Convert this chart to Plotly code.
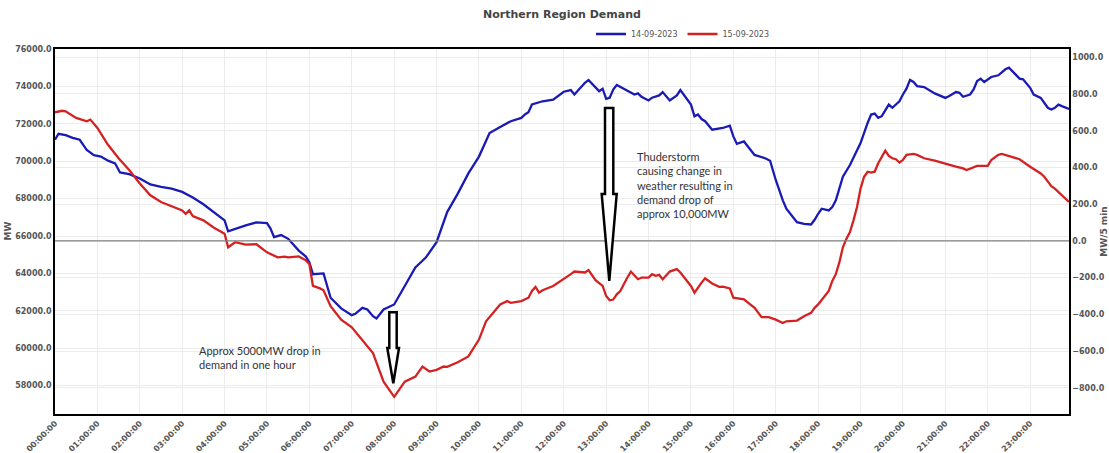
import plotly.graph_objects as go

DAY = "2023-09-14 "

# ---- 14-09-2023 (blue) ----
blue_times = ["00:00","00:05","00:15","00:25","00:35","00:45","00:55","01:05","01:15","01:25","01:32","01:45",
              "02:00","02:15","02:30","02:45","03:00","03:15","03:30","03:45","04:00","04:05","04:15","04:30",
              "04:45","05:00","05:05","05:10","05:20","05:30","05:45","05:55","06:00","06:05","06:20","06:30",
              "06:45","07:00","07:05","07:15","07:22","07:30","07:35","07:45","08:00","08:15","08:30","08:40",
              "08:45","09:00","09:15","09:30","09:45","10:00","10:15","10:30","10:45","11:00","11:05","11:10",
              "11:15","11:30","11:45","12:00","12:10","12:15","12:30","12:35","12:45","12:50","12:55","13:00",
              "13:05","13:10","13:15","13:30","13:40","13:45","13:50","14:00","14:05","14:15","14:20","14:30",
              "14:40","14:45","15:00","15:05","15:10","15:15","15:20","15:30","15:45","15:55","16:00","16:05",
              "16:15","16:30","16:45","16:52","17:00","17:10","17:15","17:30","17:40","17:50","17:55","18:00",
              "18:05","18:15","18:20","18:25","18:30","18:35","18:45","19:00","19:10","19:15","19:20","19:25",
              "19:30","19:40","19:45","19:55","20:00","20:05","20:10","20:15","20:20","20:30","20:45","21:00",
              "21:05","21:15","21:20","21:25","21:35","21:40","21:45","21:50","21:55","22:00","22:05","22:15",
              "22:25","22:30","22:35","22:45","22:50","23:00","23:05","23:15","23:25","23:30","23:35","23:40",
              "23:45","23:55"]
blue_mw = [71150,71470,71400,71250,71150,70600,70330,70250,70030,69890,69400,69310,
           69080,68760,68630,68540,68360,68060,67700,67290,66840,66250,66390,66570,
           66730,66690,66400,65940,66050,65850,65220,64900,64590,63960,64000,62700,
           62130,61770,61840,62160,62070,61710,61590,62070,62340,63330,64320,64680,
           64860,65670,67280,68270,69350,70250,71510,71830,72140,72320,72500,72620,
           73040,73210,73300,73720,73810,73570,74200,74350,73930,73750,73880,73340,
           73400,73840,74080,73750,73570,73630,73450,73250,73400,73520,73700,73250,
           73520,73810,73030,72400,72500,72260,72140,71690,71780,71900,71330,70930,
           71060,70340,70160,70030,69000,67910,67460,66740,66650,66620,66870,67190,
           67460,67370,67550,67910,68540,69170,69800,70970,72050,72500,72550,72320,
           72410,73030,72860,73210,73570,73880,74350,74240,74020,73970,73630,73390,
           73480,73700,73660,73450,73570,73840,74290,74420,74240,74380,74510,74600,
           74920,75010,74830,74420,74380,73930,73570,73390,72860,72770,72860,73030,
           72950,72800]

# ---- 15-09-2023 (red) ----
red_times = ["00:00","00:10","00:15","00:30","00:45","00:50","01:00","01:15","01:30","01:45","02:00","02:15",
             "02:30","02:45","03:00","03:05","03:10","03:15","03:30","03:45","04:00","04:05","04:15","04:30",
             "04:45","05:00","05:15","05:25","05:30","05:45","05:55","06:00","06:05","06:15","06:20","06:30",
             "06:45","07:00","07:15","07:30","07:45","08:00","08:15","08:30","08:40","08:50","09:00","09:10",
             "09:15","09:30","09:45","10:00","10:10","10:15","10:30","10:40","10:45","11:00","11:10","11:15",
             "11:20","11:25","11:30","11:45","12:00","12:10","12:15","12:30","12:35","12:45","12:55","13:00",
             "13:05","13:10","13:15","13:20","13:30","13:35","13:45","13:50","14:00","14:05","14:10","14:15",
             "14:20","14:30","14:40","14:45","15:00","15:05","15:15","15:20","15:30","15:40","15:45","15:55",
             "16:00","16:15","16:30","16:40","16:50","17:00","17:10","17:15","17:30","17:40","17:50","17:55",
             "18:00","18:10","18:15","18:20","18:25","18:30","18:35","18:40","18:45","18:50","18:55","19:00",
             "19:05","19:10","19:15","19:20","19:25","19:35","19:40","19:45","19:50","19:55","20:00","20:05",
             "20:15","20:20","20:30","20:45","21:00","21:15","21:25","21:30","21:45","22:00","22:05","22:10",
             "22:15","22:20","22:30","22:45","23:00","23:10","23:15","23:20","23:25","23:30","23:35","23:45",
             "23:55"]
red_mw = [72620,72700,72670,72320,72140,72230,71780,70880,70160,69530,68810,68180,
          67820,67610,67370,67190,67370,67070,66840,66440,66120,65400,65670,65540,
          65560,65130,64860,64900,64860,64910,64700,64500,63330,63200,63100,62250,
          61530,61120,60460,59740,58210,57400,58210,58480,59020,58750,58840,59020,
          59000,59250,59560,60460,61440,61660,62340,62520,62430,62520,62700,63060,
          63280,62970,63100,63330,63690,63960,64100,64050,64180,63640,63330,62790,
          62560,62600,62880,63060,63780,64100,63690,63780,63780,63960,63870,63920,
          63690,64100,64230,64050,63330,62970,63510,63740,63460,63280,63290,63200,
          62700,62610,62160,61660,61660,61530,61350,61440,61480,61710,61890,62160,
          62340,62790,63060,63600,63960,64590,65400,65850,66210,66840,67550,68540,
          69170,69440,69390,69440,69890,70570,70290,70160,70110,69930,70070,70340,
          70390,70340,70160,70030,69850,69710,69620,69530,69750,69750,70070,70200,
          70340,70390,70290,70110,69710,69500,69350,69170,68900,68670,68540,68180,
          67820]

series_names = ["14-09-2023", "15-09-2023"]
left_ticks = list(range(58000, 76001, 2000))
right_ticks = list(range(-800, 1001, 200))

BLUE = "#1a1ab4"
RED = "#d42222"
TXT = "#555555"

W, H = 1109, 453
ML, MR, MT, MB = 55, 40, 49, 39
PW, PH = W - ML - MR, H - MT - MB


def to_paper(px, py):
    return (px - ML) / PW, (H - MB - py) / PH


def arrow_path(pts):
    ps = [to_paper(x, y) for x, y in pts]
    return "M " + " L ".join(f"{x:.5f},{y:.5f}" for x, y in ps) + " Z"


fig = go.Figure()
fig.add_trace(go.Scatter(x=[DAY + t for t in blue_times], y=blue_mw, mode="lines",
                         name=series_names[0], line=dict(color=BLUE, width=2.3)))
fig.add_trace(go.Scatter(x=[DAY + t for t in red_times], y=red_mw, mode="lines",
                         name=series_names[1], line=dict(color=RED, width=2.3)))
# empty trace for right axis
fig.add_trace(go.Scatter(x=[DAY + "00:00"], y=[None], yaxis="y2", showlegend=False,
                         hoverinfo="skip", mode="lines"))

axis_font = dict(family="DejaVu Sans", size=8, color=TXT, weight="bold")
title_font = dict(family="DejaVu Sans", size=9, color=TXT)

fig.update_layout(
    width=W, height=H,
    margin=dict(l=ML, r=MR, t=MT, b=MB),
    paper_bgcolor="white", plot_bgcolor="white",
    font=dict(family="DejaVu Sans", color=TXT),
    title=dict(text="<b>Northern Region Demand</b>", x=0.5, xref="paper", xanchor="center",
               y=1 - 14 / H, yref="container", yanchor="middle",
               font=dict(family="DejaVu Sans", size=11, color="#444444")),
    showlegend=True,
    legend=dict(orientation="h", x=(591 - ML) / PW, xanchor="left", y=(H - MB - 34) / PH,
                yanchor="middle", font=dict(family="DejaVu Sans", size=8, color=TXT),
                bgcolor="rgba(0,0,0,0)", itemwidth=30, tracegroupgap=0),
    xaxis=dict(type="date", range=[DAY + "00:00", DAY + "23:55"],
               tick0=DAY + "00:00", dtick=3600000, tickformat="%H:%M:%S", tickangle=-45,
               tickfont=axis_font, showgrid=True, gridcolor="#ececec", gridwidth=1,
               showline=True, linecolor="black", linewidth=1.5, mirror=True,
               ticks="", zeroline=False, automargin=False),
    yaxis=dict(range=[56480, 76005], tickvals=left_ticks, tickformat=".1f",
               tickfont=axis_font, showgrid=True, gridcolor="#ececec", gridwidth=1,
               showline=True, linecolor="black", linewidth=1.5, mirror=True,
               ticks="", zeroline=False, automargin=False),
    yaxis2=dict(overlaying="y", side="right", anchor="x", range=[-943, 1045],
                tickvals=right_ticks, tickformat=".1f", tickfont=axis_font,
                showgrid=True, gridcolor="#ececec", gridwidth=1, zeroline=False,
                showline=True, linecolor="black", linewidth=1.5, ticks="", automargin=False,
                title=dict(text="<b>MW/5 min</b>", font=title_font, standoff=2)),
)

# left axis title placed as annotation (sits close to tick labels as in the original)
fig.add_annotation(x=(7 - ML) / PW, y=0.5, xref="paper", yref="paper", text="<b>MW</b>",
                   textangle=-90, showarrow=False, font=title_font, xanchor="center",
                   yanchor="middle")

# zero line of the MW/5 min axis
fig.add_shape(type="line", xref="paper", x0=0, x1=1, yref="y2", y0=0, y1=0,
              line=dict(color="#808080", width=1.2), layer="above")

# hollow arrows
big_arrow = [(605, 108), (613.3, 108), (613.3, 194), (616.7, 194), (609.3, 281),
             (601.7, 194), (605, 194)]
small_arrow = [(389.3, 312.3), (396.7, 312.3), (396.7, 348), (399, 348), (393.3, 383.3),
               (387.3, 348), (389.3, 348)]
for pts in (big_arrow, small_arrow):
    fig.add_shape(type="path", xref="paper", yref="paper", path=arrow_path(pts),
                  fillcolor="white", line=dict(color="black", width=2.5), layer="above")

note_font = dict(family="Lato", size=11, color="#333333")
fig.add_annotation(x=DAY + "13:41", y=70720, xref="x", yref="y", xanchor="left", yanchor="top",
                   align="left", showarrow=False, font=note_font,
                   text="Thuderstorm<br>causing change in<br>weather resulting in<br>demand drop of<br>approx 10,000MW")
fig.add_annotation(x=DAY + "03:21", y=60330, xref="x", yref="y", xanchor="left", yanchor="top",
                   align="left", showarrow=False, font=note_font,
                   text="Approx 5000MW drop in<br>demand in one hour")

fig.write_html("out.html", config={"displayModeBar": False},
               post_script="document.body.style.margin='0';document.body.style.padding='0';")
